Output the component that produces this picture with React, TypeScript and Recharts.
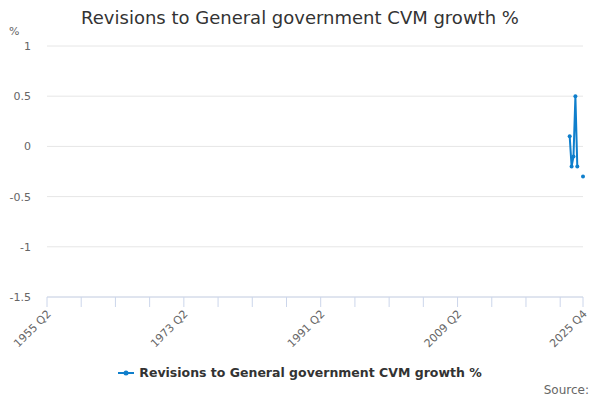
import React from "react";
import {
  LineChart,
  Line,
  XAxis,
  YAxis,
  CartesianGrid,
} from "recharts";

const FONT = "'DejaVu Sans', 'Lucida Grande', sans-serif";
const BLUE = "#0f7fcc";

// quarterly axis from 1955 Q2 to 2025 Q4
const FIRST_YEAR = 1955;
const FIRST_Q = 2;
const LAST_YEAR = 2025;
const LAST_Q = 4;

const quarters: string[] = [];
for (let y = FIRST_YEAR, q = FIRST_Q; y < LAST_YEAR || (y === LAST_YEAR && q <= LAST_Q); ) {
  quarters.push(`${y} Q${q}`);
  q++;
  if (q > 4) {
    q = 1;
    y++;
  }
}

// revisions only exist for the most recent quarters
const revisionQuarters = ["2024 Q1", "2024 Q2", "2024 Q3", "2024 Q4", "2025 Q1", "2025 Q4"];
const revisionValues = [0.1, -0.2, -0.1, 0.5, -0.2, -0.3];

const labelledQuarters = ["1955 Q2", "1973 Q2", "1991 Q2", "2009 Q2", "2025 Q4"];
const yTicks = [-1.5, -1, -0.5, 0, 0.5, 1];

const data = quarters.map((quarter, idx) => {
  const k = revisionQuarters.indexOf(quarter);
  return { idx, quarter, value: k >= 0 ? revisionValues[k] : null };
});

const xTicks: number[] = [];
for (let i = 0; i < quarters.length; i += 18) xTicks.push(i);
if (xTicks[xTicks.length - 1] !== quarters.length - 1) xTicks.push(quarters.length - 1);

function XTick(props: any) {
  const { x, y, payload } = props;
  const label = quarters[payload.value];
  if (!labelledQuarters.includes(label)) return null;
  const tx = x - 1;
  const ty = y;
  return (
    <text
      x={tx}
      y={ty}
      textAnchor="end"
      dominantBaseline="hanging"
      transform={`rotate(-45, ${tx}, ${ty})`}
      fill="#666666"
      fontSize={11}
      fontFamily={FONT}
    >
      {label}
    </text>
  );
}

export default function App() {
  return (
    <div style={{ position: "absolute", left: 0, top: 0, width: 600, height: 400, background: "#fff" }}>
      <div
        style={{
          position: "absolute",
          left: 0,
          top: 7,
          width: 600,
          textAlign: "center",
          fontFamily: FONT,
          fontSize: 18,
          color: "#333333",
        }}
      >
        Revisions to General government CVM growth %
      </div>
      <div
        style={{
          position: "absolute",
          left: 9,
          top: 25,
          fontFamily: FONT,
          fontSize: 11,
          color: "#666666",
        }}
      >
        %
      </div>
      <LineChart
        width={600}
        height={400}
        data={data}
        margin={{ top: 46, right: 17, left: 0, bottom: 44 }}
      >
        <CartesianGrid stroke="#e6e6e6" vertical={false} />
        <XAxis
          type="number"
          dataKey="idx"
          domain={[0, quarters.length - 1]}
          ticks={xTicks}
          interval={0}
          tick={<XTick />}
          tickSize={10}
          tickLine={{ stroke: "#ccd6eb" }}
          axisLine={{ stroke: "#ccd6eb" }}
          height={59}
        />
        <YAxis
          domain={[-1.5, 1]}
          ticks={yTicks}
          interval={0}
          tickLine={false}
          axisLine={false}
          tickSize={6}
          tickMargin={10}
          width={47}
          tick={{ fill: "#666666", fontSize: 11, fontFamily: FONT }}
        />
        <Line
          type="linear"
          dataKey="value"
          name="Revisions to General government CVM growth %"
          stroke={BLUE}
          strokeWidth={2}
          dot={{ r: 2, fill: BLUE, stroke: BLUE, strokeWidth: 0 }}
          connectNulls={false}
          isAnimationActive={false}
        />
      </LineChart>
      <div
        style={{
          position: "absolute",
          left: 0,
          top: 365,
          width: 600,
          display: "flex",
          justifyContent: "center",
          alignItems: "center",
          fontFamily: FONT,
          fontSize: 12.5,
          fontWeight: "bold",
          color: "#333333",
        }}
      >
        <svg width={16} height={10} style={{ marginRight: 5 }}>
          <line x1={0} y1={5} x2={16} y2={5} stroke={BLUE} strokeWidth={2} />
          <circle cx={8} cy={5} r={2.5} fill={BLUE} />
        </svg>
        Revisions to General government CVM growth %
      </div>
      <div
        style={{
          position: "absolute",
          right: 11,
          top: 383,
          fontFamily: FONT,
          fontSize: 12,
          color: "#666666",
        }}
      >
        Source:
      </div>
    </div>
  );
}
